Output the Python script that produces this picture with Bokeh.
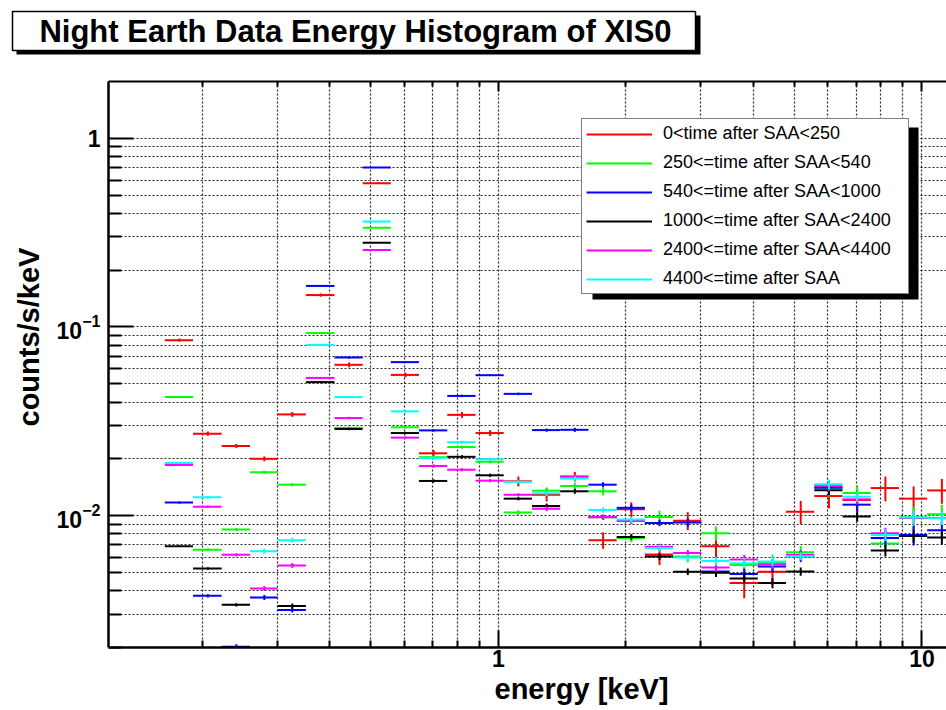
from bokeh.plotting import figure
from bokeh.layouts import column
from bokeh.models import (ColumnDataSource, Range1d, FixedTicker, LogAxis, Title,
                          BoxAnnotation, Legend, LegendItem)
from bokeh.core.properties import value
from bokeh.embed import file_html
from bokeh.resources import INLINE

FONT = "Liberation Sans"

# Histogram binning: 15 log bins per decade (edges in keV)
bin_edges = [0.163, 0.190, 0.222, 0.259, 0.301, 0.351, 0.410, 0.478, 0.557, 0.649,
             0.757, 0.883, 1.029, 1.200, 1.399, 1.631, 1.902, 2.217, 2.585, 3.014,
             3.514, 4.097, 4.777, 5.570, 6.494, 7.571, 8.827, 10.29, 12.00]

nan = float("nan")

# counts/s/keV per bin, one list per time-after-SAA selection
rate_0_250 = [0.0851, 0.0272, 0.0234, 0.0200, 0.0344, 0.1476, 0.0630, 0.578, 0.0557, 0.0214,
              0.0342, 0.0274, 0.0152, 0.0129, 0.0161, 0.00741, 0.0108, 0.00622, 0.0094, 0.00689,
              0.0044, 0.00504, 0.0105, 0.0127, 0.0121, 0.0140, 0.0123, 0.0136]
rate_250_540 = [0.0425, 0.0066, 0.00843, 0.01698, 0.01459, 0.0928, 0.0292, 0.3357, 0.0294, 0.0204,
                0.0231, 0.0193, 0.01038, 0.01356, 0.01436, 0.01346, 0.0076, 0.00984, 0.00608, 0.00807,
                0.00548, 0.00565, 0.0064, 0.0140, 0.01318, 0.00711, 0.0098, 0.01017]
rate_540_1000 = [0.01172, 0.00376, 0.00202, 0.00368, 0.00316, 0.165, 0.0689, 0.700, 0.0651, 0.0283,
                 0.0431, 0.0555, 0.0442, 0.0284, 0.0285, 0.01459, 0.0110, 0.00915, 0.0092, 0.00506,
                 0.0049, 0.00537, 0.0061, 0.01407, 0.01143, 0.0076, 0.0079, 0.00837]
rate_1000_2400 = [0.00689, 0.00525, 0.00337, nan, 0.00332, 0.0510, 0.0288, 0.2797, 0.0274, 0.01527,
                  0.0205, 0.01636, 0.0123, 0.01125, 0.01346, 0.0098, 0.0077, 0.00607, 0.00504, 0.00498,
                  0.00464, 0.00439, 0.00506, 0.01363, 0.00988, 0.00653, 0.0078, 0.00765]
rate_2400_4400 = [0.01854, 0.01116, 0.0062, 0.00411, 0.00544, 0.0537, 0.0329, 0.2556, 0.0259, 0.01833,
                  0.01751, 0.01532, 0.0129, 0.01089, 0.0161, 0.00984, 0.00937, 0.00683, 0.00633, 0.00531,
                  0.00585, 0.00553, 0.0062, 0.01436, 0.0122, 0.00807, 0.0097, 0.0097]
rate_4400_up = [0.0190, 0.0125, nan, 0.00648, 0.00741, 0.0803, 0.0425, 0.3624, 0.0357, 0.0202,
                0.0245, 0.0199, 0.0151, 0.01313, 0.0157, 0.01072, 0.00953, 0.00673, 0.0060, 0.00574,
                0.0056, 0.00571, 0.0061, 0.01466, 0.0126, 0.0079, 0.00976, 0.00969]

# relative statistical errors per bin
relerr_0_250 = [0.02, 0.025, 0.025, 0.03, 0.03, 0.02, 0.03, 0.01, 0.03, 0.04, 0.036, 0.036, 0.06, 0.08,
                0.06, 0.10, 0.09, 0.12, 0.11, 0.15, 0.17, 0.15, 0.14, 0.14, 0.14, 0.15, 0.16, 0.15]
relerr_250_540 = [0.01, 0.015, 0.02, 0.02, 0.02, 0.01, 0.015, 0.005, 0.015, 0.02, 0.02, 0.02, 0.03, 0.04,
                  0.04, 0.05, 0.05, 0.08, 0.07, 0.085, 0.07, 0.10, 0.08, 0.10, 0.10, 0.10, 0.14, 0.12]
relerr_540_1000 = [0.015, 0.02, 0.03, 0.03, 0.03, 0.01, 0.015, 0.005, 0.01, 0.015, 0.015, 0.01, 0.015, 0.02,
                   0.025, 0.03, 0.04, 0.04, 0.05, 0.05, 0.07, 0.07, 0.07, 0.08, 0.08, 0.10, 0.12, 0.10]
relerr_1000_2400 = [0.01, 0.015, 0.02, nan, 0.03, 0.01, 0.015, 0.005, 0.015, 0.02, 0.02, 0.02, 0.02, 0.03,
                    0.03, 0.03, 0.035, 0.04, 0.04, 0.05, 0.06, 0.06, 0.05, 0.06, 0.06, 0.07, 0.08, 0.08]
relerr_2400_4400 = [0.01, 0.015, 0.02, 0.03, 0.03, 0.01, 0.015, 0.005, 0.015, 0.02, 0.02, 0.02, 0.02, 0.03,
                    0.03, 0.03, 0.035, 0.04, 0.04, 0.05, 0.06, 0.06, 0.05, 0.06, 0.06, 0.07, 0.08, 0.08]
relerr_4400_up = [0.01, 0.015, nan, 0.03, 0.03, 0.01, 0.015, 0.005, 0.015, 0.02, 0.02, 0.02, 0.02, 0.03,
                  0.03, 0.03, 0.035, 0.04, 0.04, 0.05, 0.06, 0.06, 0.05, 0.06, 0.06, 0.07, 0.08, 0.08]

series = [
    ("0<time after SAA<250", "#ff0000", rate_0_250, relerr_0_250),
    ("250<=time after SAA<540", "#00ff00", rate_250_540, relerr_250_540),
    ("540<=time after SAA<1000", "#0000ff", rate_540_1000, relerr_540_1000),
    ("1000<=time after SAA<2400", "#000000", rate_1000_2400, relerr_1000_2400),
    ("2400<=time after SAA<4400", "#ff00ff", rate_2400_4400, relerr_2400_4400),
    ("4400<=time after SAA", "#00ffff", rate_4400_up, relerr_4400_up),
]

x_ticks_major = [1, 10]
x_ticks_minor = [0.2, 0.3, 0.4, 0.5, 0.6, 0.7, 0.8, 0.9, 2, 3, 4, 5, 6, 7, 8, 9]
y_ticks_major = [0.01, 0.1, 1]
y_ticks_minor = [0.002, 0.003, 0.004, 0.005, 0.006, 0.007, 0.008, 0.009,
                 0.02, 0.03, 0.04, 0.05, 0.06, 0.07, 0.08, 0.09,
                 0.2, 0.3, 0.4, 0.5, 0.6, 0.7, 0.8, 0.9]

W = 946
TITLE_H = 77           # height of the title strip above the histogram
FL, FB = 108, 647      # frame left / bottom on the page


def sx(px):
    return px - FL


def sy(py):
    return FB - py


# ---- title strip: framed caption with a drop shadow ----
t = figure(width=W, height=TITLE_H, x_range=Range1d(0, W), y_range=Range1d(TITLE_H, 0),
           output_backend="svg", toolbar_location=None,
           x_axis_location=None, y_axis_location=None,
           min_border=0, min_border_left=0, min_border_right=0,
           min_border_top=0, min_border_bottom=0)
t.outline_line_color = None
t.xgrid.visible = False
t.ygrid.visible = False
t.quad(left=[16], right=[700], top=[15], bottom=[54], fill_color="black", line_color=None)
t.quad(left=[12], right=[695], top=[11], bottom=[50], fill_color="white",
       line_color="black", line_width=1.5)
t.text(x=[355], y=[31], text=["Night Earth Data Energy Histogram of XIS0"],
       text_font=value(FONT), text_font_style="bold", text_font_size="31px",
       text_align="center", text_baseline="middle", text_color="black")

# ---- histogram ----
p = figure(width=W, height=710 - TITLE_H, x_axis_type="log", y_axis_type="log",
           x_range=Range1d(0.12, 11.43), y_range=Range1d(0.002, 2.0),
           output_backend="svg", toolbar_location=None,
           min_border_left=FL, min_border_right=0,
           min_border_top=80 - TITLE_H, min_border_bottom=710 - FB)
p.outline_line_color = None
p.background_fill_color = "white"
p.border_fill_color = "white"

# keep each figure's frame where it is set, instead of lining the frames up
for fig in (t, p):
    if hasattr(fig, "frame_align"):
        fig.frame_align = False

for ax in p.xaxis:
    ax.ticker = FixedTicker(ticks=x_ticks_major, minor_ticks=x_ticks_minor)
    ax.major_label_overrides = {1: "1", 10: "10"}
    ax.major_label_text_font = FONT
    ax.major_label_text_font_style = "bold"
    ax.major_label_text_font_size = "23px"
    ax.major_label_text_color = "black"
    ax.major_label_standoff = 2
    ax.major_tick_in, ax.major_tick_out = 17, 0
    ax.minor_tick_in, ax.minor_tick_out = 7, 0
    ax.axis_line_width = 2.5
    ax.major_tick_line_width = 2
    ax.minor_tick_line_width = 2

for ax in p.yaxis:
    ax.ticker = FixedTicker(ticks=y_ticks_major, minor_ticks=y_ticks_minor)
    ax.major_label_overrides = {1: "1"}
    ax.major_label_text_font = FONT
    ax.major_label_text_font_style = "bold"
    ax.major_label_text_font_size = "23px"
    ax.major_label_text_color = "black"
    ax.major_label_standoff = 8
    ax.major_tick_in, ax.major_tick_out = 25, 0
    ax.minor_tick_in, ax.minor_tick_out = 13, 0
    ax.axis_line_width = 2.5
    ax.major_tick_line_width = 2
    ax.minor_tick_line_width = 2

top = LogAxis(ticker=FixedTicker(ticks=x_ticks_major, minor_ticks=x_ticks_minor),
              major_label_overrides={1: " ", 10: " "}, major_label_text_font_size="1px",
              major_label_standoff=0, major_tick_in=10, major_tick_out=0,
              minor_tick_in=5, minor_tick_out=0, axis_line_width=2,
              major_tick_line_width=2, minor_tick_line_width=2)
p.add_layout(top, "above")

# axis titles
p.add_layout(Title(text="energy [keV]", align="left", offset=386, standoff=2,
                   text_font=FONT, text_font_style="bold", text_font_size="29px",
                   text_color="black"), "below")
p.add_layout(Title(text="counts/s/keV", align="left", offset=221, standoff=17,
                   text_font=FONT, text_font_style="bold", text_font_size="29px",
                   text_color="black"), "left")

# dotted grid at every decade subdivision
p.xgrid.ticker = FixedTicker(ticks=sorted(x_ticks_minor + x_ticks_major))
p.ygrid.ticker = FixedTicker(ticks=sorted(y_ticks_minor + y_ticks_major))
for g in (p.xgrid, p.ygrid):
    g.grid_line_color = "black"
    g.grid_line_dash = "2 2"
    g.grid_line_width = 1.2
    g.grid_line_alpha = 0.85

# histogram bars with error bars
lo = bin_edges[:-1]
hi = bin_edges[1:]
mid = [(a + b) / 2 for a, b in zip(lo, hi)]
legend_items = []
for name, color, vals, rel in series:
    err = [v * r for v, r in zip(vals, rel)]
    src = ColumnDataSource(dict(lo=lo, hi=hi, mid=mid, y=vals,
                                ylo=[v - e for v, e in zip(vals, err)],
                                yhi=[v + e for v, e in zip(vals, err)]))
    bars = p.segment(x0="lo", x1="hi", y0="y", y1="y", source=src,
                     line_color=color, line_width=2)
    p.segment(x0="mid", x1="mid", y0="ylo", y1="yhi", source=src,
              line_color=color, line_width=2)
    legend_items.append(LegendItem(label=name, renderers=[bars]))

# legend with drop shadow
p.add_layout(BoxAnnotation(left=sx(592), right=sx(918), top=sy(127), bottom=sy(299),
                           left_units="screen", right_units="screen",
                           top_units="screen", bottom_units="screen",
                           fill_color="black", fill_alpha=1, line_color=None))
legend = Legend(items=legend_items, location="top_right", margin=37,
                padding=4, spacing=8, glyph_width=66, label_standoff=11, label_width=241,
                label_text_font=FONT, label_text_font_size="18px", label_text_color="black",
                border_line_color="black", border_line_width=1.5,
                background_fill_color="white", background_fill_alpha=1)
p.add_layout(legend)

open("out.html", "w").write(file_html(column(t, p), INLINE))
